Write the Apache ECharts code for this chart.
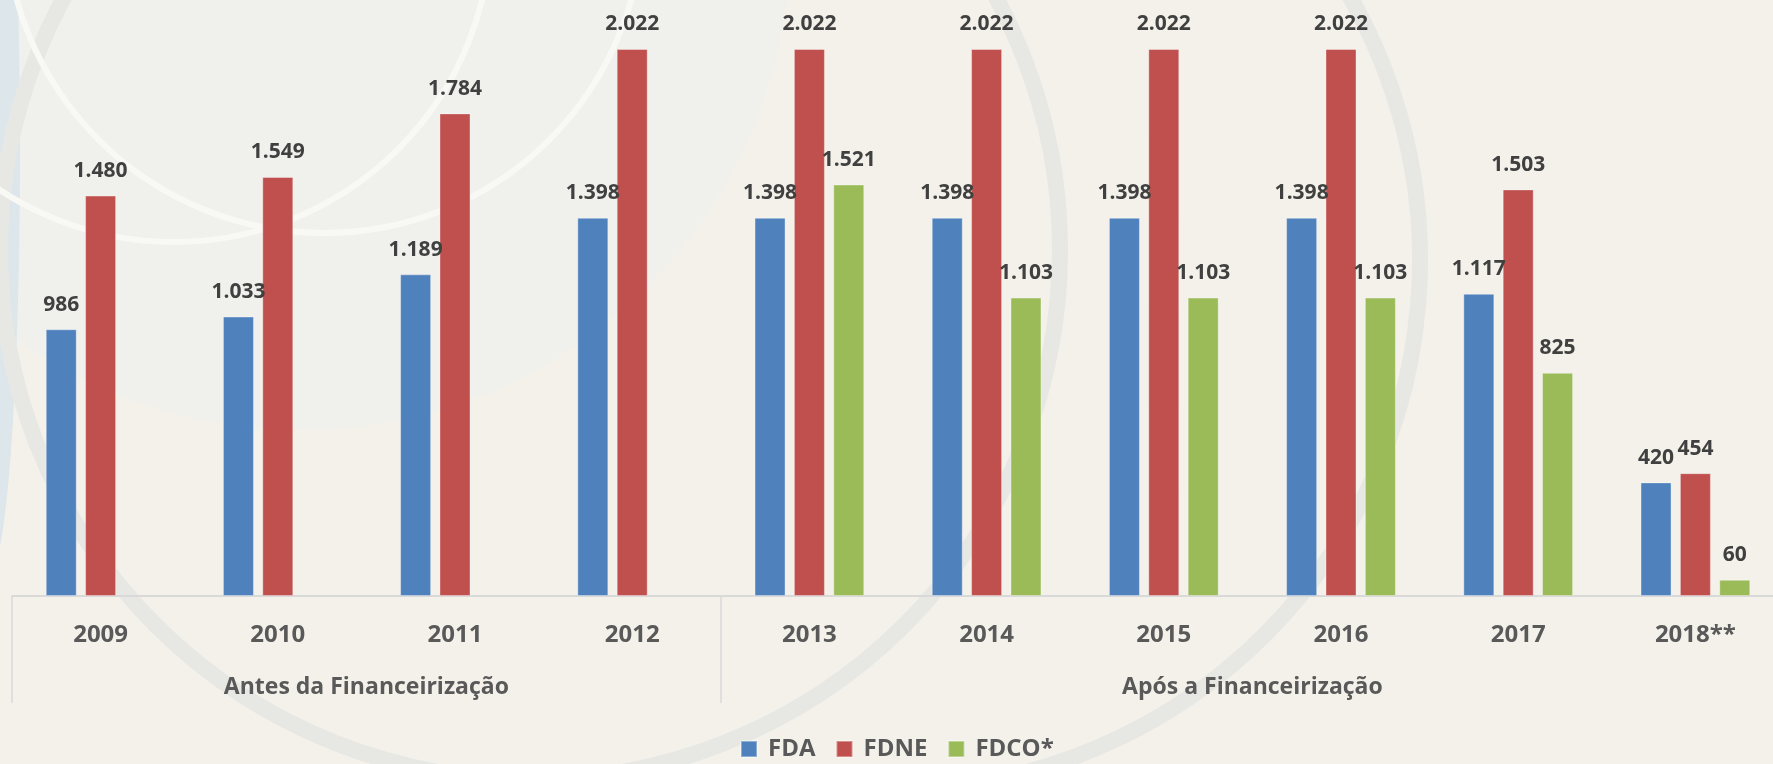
<!DOCTYPE html>
<html>
<head>
<meta charset="utf-8">
<title>FDA FDNE FDCO</title>
<script src="https://cdn.jsdelivr.net/npm/echarts@6/dist/echarts.min.js"></script>
<style>
  * { margin: 0; padding: 0; }
  html, body { width: 1773px; height: 764px; background: #f3f1ea; overflow: hidden; }
  #chart { width: 1773px; height: 764px; }
</style>
</head>
<body>
<div id="chart"></div>
<script>
// anos (categorias)
const years = ["2009", "2010", "2011", "2012", "2013", "2014", "2015", "2016", "2017", "2018**"];
// valores
const fda = [986, 1033, 1189, 1398, 1398, 1398, 1398, 1398, 1117, 420];
const fdne = [1480, 1549, 1784, 2022, 2022, 2022, 2022, 2022, 1503, 454];
const fdco = [null, null, null, null, 1521, 1103, 1103, 1103, 825, 60];
// grupos do eixo
const groupNames = ["Antes da Financeirização", "Após a Financeirização"];
const groupSizes = [4, 6];

const FONT = "'Open Sans', 'Noto Sans', sans-serif";

// limites e centros dos grupos em unidades de categoria
const groupEdges = [0];
groupSizes.forEach(n => groupEdges.push(groupEdges[groupEdges.length - 1] + n));
const groupCenters = groupSizes.map((n, i) => groupEdges[i] + n / 2);

function fmt(v) {
  return String(v).replace(/\B(?=(\d{3})+(?!\d))/g, ".");
}

function barSeries(name, data, color) {
  return {
    name: name,
    type: "bar",
    data: data,
    barWidth: 31,
    barGap: "27%",
    itemStyle: {
      color: color,
      borderColor: "rgba(255,255,255,0.35)",
      borderWidth: 1
    },
    label: {
      show: true,
      position: "top",
      distance: 14,
      color: "#404040",
      fontFamily: FONT,
      fontWeight: "bold",
      fontSize: 21,
      formatter: p => fmt(p.value)
    }
  };
}

const deg = d => d * Math.PI / 180;

// desenho de fundo (decoração)
const decor = [
  { type: "circle", silent: true, z: -10, shape: { cx: 300, cy: -60, r: 490 },
    style: { fill: "#f0f0ec" } },
  { type: "ellipse", silent: true, z: -9, shape: { cx: -10, cy: 150, rx: 30, ry: 420 },
    style: { fill: "#dde6ea" } },
  { type: "circle", silent: true, z: -9, shape: { cx: 530, cy: 250, r: 530 },
    style: { fill: "none", stroke: "#e7e8e4", lineWidth: 16 } },
  { type: "arc", silent: true, z: -9,
    shape: { cx: 890, cy: 260, r: 530, startAngle: deg(-40), endAngle: deg(80), clockwise: true },
    style: { fill: "none", stroke: "#e7e8e4", lineWidth: 16 } },
  { type: "circle", silent: true, z: -8, shape: { cx: 324, cy: -86, r: 319 },
    style: { fill: "none", stroke: "#f8f8f5", lineWidth: 6 } },
  { type: "circle", silent: true, z: -8, shape: { cx: 174, cy: -75, r: 317 },
    style: { fill: "none", stroke: "#f8f8f5", lineWidth: 6 } }
];

const chart = echarts.init(document.getElementById("chart"));
chart.setOption({
  backgroundColor: "#f3f1ea",
  animation: false,
  graphic: decor,
  grid: {
    left: 12,
    top: 49,
    width: 1772,
    bottom: 168,
    containLabel: false,
    outerBoundsMode: "none"
  },
  legend: {
    left: 740,
    top: 737,
    padding: 0,
    itemWidth: 16,
    itemHeight: 16,
    itemGap: 20,
    icon: "rect",
    textStyle: {
      color: "#595959",
      fontFamily: FONT,
      fontWeight: "bold",
      fontSize: 24,
      padding: [0, 0, 0, 6]
    },
    data: ["FDA", "FDNE", "FDCO*"]
  },
  xAxis: [
    {
      type: "category",
      data: years,
      position: "bottom",
      axisLine: { show: true, lineStyle: { color: "#d9d9d9", width: 2 } },
      axisTick: { show: false },
      axisLabel: {
        color: "#595959",
        fontFamily: FONT,
        fontWeight: "bold",
        fontSize: 24,
        margin: 27
      }
    },
    {
      type: "value",
      min: 0,
      max: years.length,
      position: "bottom",
      axisLine: { show: false },
      splitLine: { show: false },
      axisTick: {
        show: true,
        length: 107,
        customValues: groupEdges,
        lineStyle: { color: "#d9d9d9", width: 1.5 }
      },
      axisLabel: {
        show: true,
        customValues: groupCenters,
        margin: 80,
        color: "#595959",
        fontFamily: FONT,
        fontWeight: "bold",
        fontSize: 23,
        formatter: v => {
          const i = groupCenters.indexOf(v);
          return i >= 0 ? groupNames[i] : "";
        }
      }
    }
  ],
  yAxis: {
    type: "value",
    min: 0,
    max: 2022,
    show: false,
    splitLine: { show: false }
  },
  series: [
    barSeries("FDA", fda, "#4f81bd"),
    barSeries("FDNE", fdne, "#c0504d"),
    barSeries("FDCO*", fdco, "#9bbb59")
  ]
});
</script>
</body>
</html>
